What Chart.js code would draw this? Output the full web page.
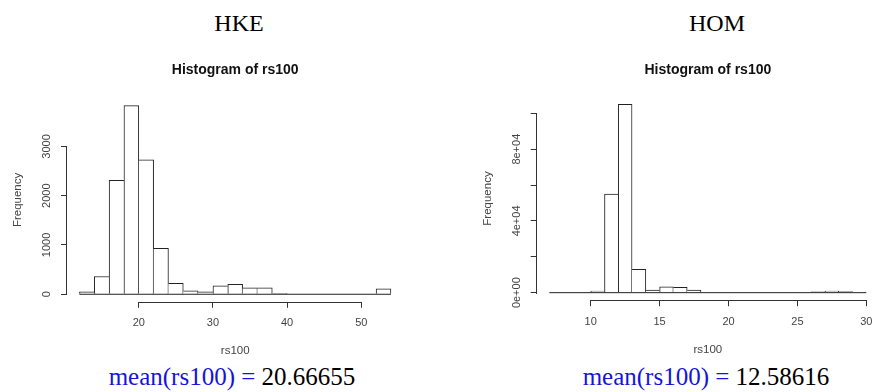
<!DOCTYPE html>
<html><head><meta charset="utf-8">
<script src="https://cdn.jsdelivr.net/npm/chart.js@4"></script>
<style>
html,body{margin:0;padding:0;background:#fff;width:872px;height:392px;overflow:hidden;position:relative;}
canvas{position:absolute;}
.lbl{position:absolute;font-family:"Liberation Serif","Times New Roman",serif;white-space:nowrap;text-align:center;color:#000;}
.blue{color:#1515d8;}
</style></head><body>
<div class="lbl" style="left:139px;top:8px;width:200px;font-size:24px;line-height:30px">HKE</div>
<div class="lbl" style="left:617px;top:8px;width:200px;font-size:24px;line-height:30px">HOM</div>
<div class="lbl" style="left:82px;top:362px;width:300px;font-size:25px;line-height:30px"><span class="blue">mean(rs100) = </span>20.66655</div>
<div class="lbl" style="left:556px;top:362px;width:300px;font-size:25px;line-height:30px"><span class="blue">mean(rs100) = </span>12.58616</div>
<canvas id="c1" width="440" height="330" style="left:0px;top:40px"></canvas>
<canvas id="c2" width="430" height="330" style="left:470px;top:40px"></canvas>
<script>
// ---- data ----
const hkeBreaks = [12,14,16,18,20,22,24,26,28,30,32,34,36,38,40,42,44,46,48,50,52,54];
const hkeCounts = [50,360,2310,3830,2730,930,220,70,50,170,200,130,130,20,0,0,0,0,0,0,110];
const hkeXTicks = [20,30,40,50];
const hkeXLabels = ['20','30','40','50'];
const hkeYTicks = [0,1000,2000,3000];
const hkeYLabels = ['0','1000','2000','3000'];

const homBreaks = [7,8,9,10,11,12,13,14,15,16,17,18,19,20,21,22,23,24,25,26,27,28,29,30];
const homCounts = [0,0,0,900,55000,105000,13000,1500,3300,3000,1500,0,0,0,0,0,0,0,0,500,900,600,0];
const homXTicks = [10,15,20,25,30];
const homXLabels = ['10','15','20','25','30'];
const homYTicks = [0,20000,40000,60000,80000,100000];
const homYLabels = ['0e+00','','4e+04','','8e+04',''];

Chart.defaults.font.family = '"Liberation Sans", Arial, sans-serif';

const rAxes = {
  id: 'rAxes',
  afterDraw(chart) {
    const ctx = chart.ctx, xs = chart.scales.x, ys = chart.scales.y;
    const xt = xs.ticks, yt = ys.ticks;
    ctx.save();
    ctx.strokeStyle = '#333';
    ctx.lineWidth = 1;
    ctx.beginPath();
    const y0 = Math.round(xs.top) + 0.5;
    ctx.moveTo(Math.round(xs.getPixelForValue(xt[0].value)), y0);
    ctx.lineTo(Math.round(xs.getPixelForValue(xt[xt.length - 1].value)) + 1, y0);
    const x0 = Math.round(ys.right) - 0.5;
    ctx.moveTo(x0, Math.round(ys.getPixelForValue(yt[0].value)) + 1);
    ctx.lineTo(x0, Math.round(ys.getPixelForValue(yt[yt.length - 1].value)));
    ctx.stroke();
    ctx.restore();
  }
};

function makeChart(id, p) {
  const br = p.breaks, counts = p.counts;
  const pts = counts.map((c, i) => ({x: (br[i] + br[i + 1]) / 2, y: c}));
  const xr = br[br.length - 1] - br[0];
  const yMax = Math.max(...counts);
  const tickFont = {size: 11};
  const titleFont = {size: 11.5};
  return new Chart(document.getElementById(id), {
    type: 'bar',
    data: {datasets: [{
      type: 'line',
      data: [{x: br[0], y: 0}, {x: br[br.length - 1], y: 0}],
      borderColor: '#222',
      borderWidth: 1,
      pointRadius: 0,
      order: 0
    }, {
      data: pts,
      order: 1,
      backgroundColor: '#fff',
      borderColor: '#222',
      borderSkipped: false,
      barPercentage: 1,
      categoryPercentage: 1,
      borderWidth: (c) => {
        const d = c.dataset.data, i = c.dataIndex;
        if (i === undefined || !d[i]) return 1;
        const cur = d[i].y;
        if (cur === 0) return 0;
        const prev = i > 0 ? d[i - 1].y : -1;
        const next = i < d.length - 1 ? d[i + 1].y : -1;
        return {top: 1, bottom: 0, left: prev >= cur ? 0 : 1, right: next > cur ? 0 : 1};
      }
    }]},
    options: {
      responsive: false,
      animation: false,
      layout: {padding: {left: 0, right: p.padRight, top: 0, bottom: 0}},
      plugins: {
        legend: {display: false},
        tooltip: {enabled: false},
        title: {
          display: true, text: 'Histogram of rs100', fullSize: false,
          font: {size: 14, weight: 'bold'}, color: '#111',
          padding: {top: p.titleTop, bottom: p.titleBottom}
        }
      },
      scales: {
        x: {
          type: 'linear',
          min: br[0] - 0.04 * xr,
          max: br[br.length - 1] + 0.04 * xr,
          offset: false,
          border: {display: false},
          grid: {display: true, drawOnChartArea: false, drawTicks: true, tickLength: 6, color: '#333', offset: false},
          ticks: {autoSkip: false, padding: 9, font: tickFont, color: '#444', maxRotation: 0, minRotation: 0,
                  callback: (v, i) => p.xLabels[i]},
          afterBuildTicks: (s) => { s.ticks = p.xTicks.map(v => ({value: v})); },
          afterFit: (s) => { s.height = p.xHeight; },
          title: {display: true, text: 'rs100', font: titleFont, color: '#444', padding: {top: 0, bottom: p.xTitleBottom}}
        },
        y: {
          type: 'linear',
          min: -0.04 * yMax,
          max: yMax * 1.04,
          border: {display: false},
          grid: {display: true, drawOnChartArea: false, drawTicks: true, tickLength: 6, color: '#333'},
          ticks: {autoSkip: false, padding: p.yTickPad, font: tickFont, color: '#444', minRotation: 90, maxRotation: 90,
                  crossAlign: 'center', callback: (v, i) => p.yLabels[i]},
          afterBuildTicks: (s) => { s.ticks = p.yTicks.map(v => ({value: v})); },
          afterFit: (s) => { s.width = p.yWidth; },
          title: {display: true, text: 'Frequency', font: titleFont, color: '#444', padding: {top: 11, bottom: 0}}
        }
      }
    },
    plugins: [rAxes]
  });
}

makeChart('c1', {
  breaks: hkeBreaks, counts: hkeCounts,
  xTicks: hkeXTicks, xLabels: hkeXLabels, yTicks: hkeYTicks, yLabels: hkeYLabels,
  padRight: 36.6, titleTop: 22.1, titleBottom: 19.1,
  xHeight: 68.2, xTitleBottom: 12, yWidth: 67, yTickPad: 2
});
makeChart('c2', {
  breaks: homBreaks, counts: homCounts,
  xTicks: homXTicks, xLabels: homXLabels, yTicks: homYTicks, yLabels: homYLabels,
  padRight: 21, titleTop: 21.6, titleBottom: 18.4,
  xHeight: 69.8, xTitleBottom: 13, yWidth: 66.7, yTickPad: -2
});
</script>
</body></html>
